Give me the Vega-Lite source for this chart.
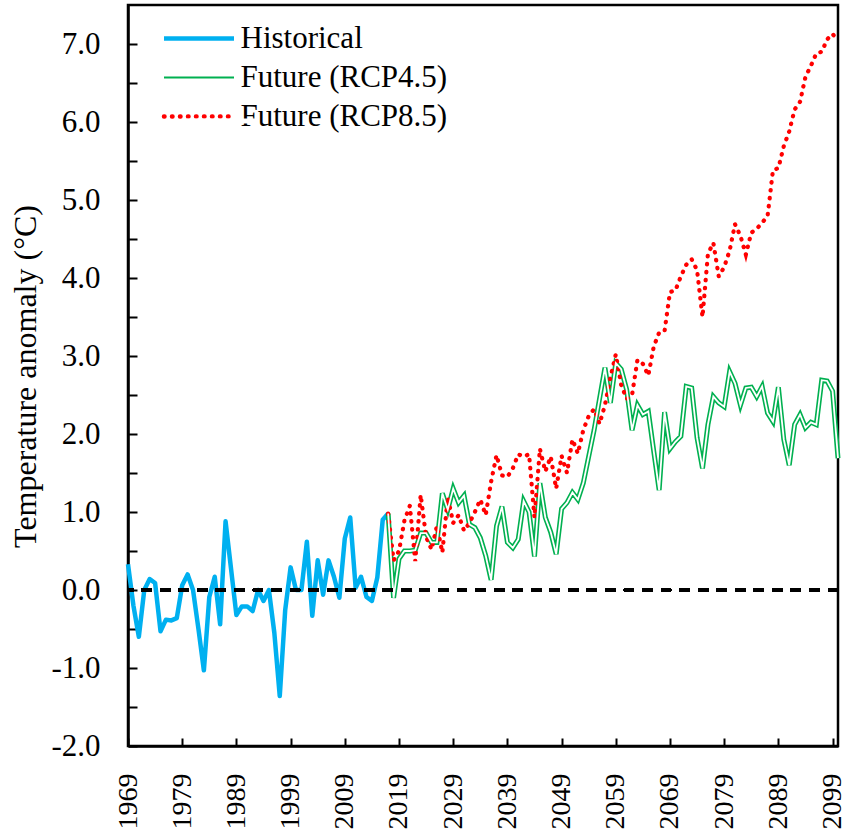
{
  "$schema": "https://vega.github.io/schema/vega-lite/v6.json",
  "width": 710,
  "height": 741,
  "autosize": {"type": "none"},
  "padding": {"left": 128, "top": 5, "right": 7, "bottom": 85},
  "background": "white",
  "config": {
    "font": "Liberation Serif",
    "view": {"stroke": "black", "strokeWidth": 2.5},
    "axis": {
      "grid": false,
      "domainColor": "black",
      "domainWidth": 2.5,
      "tickColor": "black",
      "tickWidth": 2,
      "labelFont": "Liberation Serif",
      "labelColor": "black",
      "titleFont": "Liberation Serif",
      "titleColor": "black",
      "titleFontWeight": "normal"
    },
    "legend": {
      "orient": "none",
      "legendX": 37,
      "legendY": 18,
      "title": null,
      "symbolType": "stroke",
      "symbolSize": 4900,
      "symbolOffset": 18.5,
      "labelFont": "Liberation Serif",
      "labelFontSize": 31,
      "labelLimit": 0,
      "labelOffset": 26,
      "rowPadding": 7,
      "padding": 0
    }
  },
  "datasets": {
    "temps": [
      {"year": 1969, "series": "Historical", "value": 0.33},
      {"year": 1970, "series": "Historical", "value": -0.2},
      {"year": 1971, "series": "Historical", "value": -0.6},
      {"year": 1972, "series": "Historical", "value": 0.0},
      {"year": 1973, "series": "Historical", "value": 0.14},
      {"year": 1974, "series": "Historical", "value": 0.09},
      {"year": 1975, "series": "Historical", "value": -0.53},
      {"year": 1976, "series": "Historical", "value": -0.38},
      {"year": 1977, "series": "Historical", "value": -0.39},
      {"year": 1978, "series": "Historical", "value": -0.36},
      {"year": 1979, "series": "Historical", "value": 0.06},
      {"year": 1980, "series": "Historical", "value": 0.2},
      {"year": 1981, "series": "Historical", "value": 0.0},
      {"year": 1982, "series": "Historical", "value": -0.5},
      {"year": 1983, "series": "Historical", "value": -1.03},
      {"year": 1984, "series": "Historical", "value": -0.09},
      {"year": 1985, "series": "Historical", "value": 0.17},
      {"year": 1986, "series": "Historical", "value": -0.44},
      {"year": 1987, "series": "Historical", "value": 0.88},
      {"year": 1988, "series": "Historical", "value": 0.28},
      {"year": 1989, "series": "Historical", "value": -0.32},
      {"year": 1990, "series": "Historical", "value": -0.21},
      {"year": 1991, "series": "Historical", "value": -0.21},
      {"year": 1992, "series": "Historical", "value": -0.27},
      {"year": 1993, "series": "Historical", "value": 0.0},
      {"year": 1994, "series": "Historical", "value": -0.14},
      {"year": 1995, "series": "Historical", "value": 0.0},
      {"year": 1996, "series": "Historical", "value": -0.55},
      {"year": 1997, "series": "Historical", "value": -1.36},
      {"year": 1998, "series": "Historical", "value": -0.26},
      {"year": 1999, "series": "Historical", "value": 0.29},
      {"year": 2000, "series": "Historical", "value": 0.0},
      {"year": 2001, "series": "Historical", "value": 0.0},
      {"year": 2002, "series": "Historical", "value": 0.62},
      {"year": 2003, "series": "Historical", "value": -0.33},
      {"year": 2004, "series": "Historical", "value": 0.38},
      {"year": 2005, "series": "Historical", "value": -0.06},
      {"year": 2006, "series": "Historical", "value": 0.38},
      {"year": 2007, "series": "Historical", "value": 0.17},
      {"year": 2008, "series": "Historical", "value": -0.1},
      {"year": 2009, "series": "Historical", "value": 0.66},
      {"year": 2010, "series": "Historical", "value": 0.93},
      {"year": 2011, "series": "Historical", "value": 0.03},
      {"year": 2012, "series": "Historical", "value": 0.17},
      {"year": 2013, "series": "Historical", "value": -0.09},
      {"year": 2014, "series": "Historical", "value": -0.14},
      {"year": 2015, "series": "Historical", "value": 0.16},
      {"year": 2016, "series": "Historical", "value": 0.9},
      {"year": 2017, "series": "Historical", "value": 0.98},

      {"year": 2017, "series": "Future (RCP4.5)", "value": 0.98},
      {"year": 2018, "series": "Future (RCP4.5)", "value": -0.1},
      {"year": 2019, "series": "Future (RCP4.5)", "value": 0.4},
      {"year": 2020, "series": "Future (RCP4.5)", "value": 0.5},
      {"year": 2021, "series": "Future (RCP4.5)", "value": 0.5},
      {"year": 2022, "series": "Future (RCP4.5)", "value": 0.51},
      {"year": 2023, "series": "Future (RCP4.5)", "value": 0.73},
      {"year": 2024, "series": "Future (RCP4.5)", "value": 0.73},
      {"year": 2025, "series": "Future (RCP4.5)", "value": 0.61},
      {"year": 2026, "series": "Future (RCP4.5)", "value": 0.61},
      {"year": 2027, "series": "Future (RCP4.5)", "value": 1.24},
      {"year": 2028, "series": "Future (RCP4.5)", "value": 1.03},
      {"year": 2029, "series": "Future (RCP4.5)", "value": 1.3},
      {"year": 2030, "series": "Future (RCP4.5)", "value": 1.12},
      {"year": 2031, "series": "Future (RCP4.5)", "value": 1.21},
      {"year": 2032, "series": "Future (RCP4.5)", "value": 0.84},
      {"year": 2033, "series": "Future (RCP4.5)", "value": 0.8},
      {"year": 2034, "series": "Future (RCP4.5)", "value": 0.67},
      {"year": 2035, "series": "Future (RCP4.5)", "value": 0.44},
      {"year": 2036, "series": "Future (RCP4.5)", "value": 0.13},
      {"year": 2037, "series": "Future (RCP4.5)", "value": 0.82},
      {"year": 2038, "series": "Future (RCP4.5)", "value": 1.07},
      {"year": 2039, "series": "Future (RCP4.5)", "value": 0.61},
      {"year": 2040, "series": "Future (RCP4.5)", "value": 0.54},
      {"year": 2041, "series": "Future (RCP4.5)", "value": 0.65},
      {"year": 2042, "series": "Future (RCP4.5)", "value": 1.14},
      {"year": 2043, "series": "Future (RCP4.5)", "value": 1.0},
      {"year": 2044, "series": "Future (RCP4.5)", "value": 0.43},
      {"year": 2045, "series": "Future (RCP4.5)", "value": 1.37},
      {"year": 2046, "series": "Future (RCP4.5)", "value": 0.93},
      {"year": 2047, "series": "Future (RCP4.5)", "value": 0.74},
      {"year": 2048, "series": "Future (RCP4.5)", "value": 0.46},
      {"year": 2049, "series": "Future (RCP4.5)", "value": 1.04},
      {"year": 2050, "series": "Future (RCP4.5)", "value": 1.12},
      {"year": 2051, "series": "Future (RCP4.5)", "value": 1.25},
      {"year": 2052, "series": "Future (RCP4.5)", "value": 1.16},
      {"year": 2053, "series": "Future (RCP4.5)", "value": 1.37},
      {"year": 2054, "series": "Future (RCP4.5)", "value": 1.71},
      {"year": 2055, "series": "Future (RCP4.5)", "value": 2.05},
      {"year": 2056, "series": "Future (RCP4.5)", "value": 2.45},
      {"year": 2057, "series": "Future (RCP4.5)", "value": 2.85},
      {"year": 2058, "series": "Future (RCP4.5)", "value": 2.4},
      {"year": 2059, "series": "Future (RCP4.5)", "value": 2.91},
      {"year": 2060, "series": "Future (RCP4.5)", "value": 2.83},
      {"year": 2061, "series": "Future (RCP4.5)", "value": 2.57},
      {"year": 2062, "series": "Future (RCP4.5)", "value": 2.05},
      {"year": 2063, "series": "Future (RCP4.5)", "value": 2.37},
      {"year": 2064, "series": "Future (RCP4.5)", "value": 2.25},
      {"year": 2065, "series": "Future (RCP4.5)", "value": 2.29},
      {"year": 2066, "series": "Future (RCP4.5)", "value": 1.78},
      {"year": 2067, "series": "Future (RCP4.5)", "value": 1.28},
      {"year": 2068, "series": "Future (RCP4.5)", "value": 2.28},
      {"year": 2069, "series": "Future (RCP4.5)", "value": 1.81},
      {"year": 2070, "series": "Future (RCP4.5)", "value": 1.9},
      {"year": 2071, "series": "Future (RCP4.5)", "value": 1.97},
      {"year": 2072, "series": "Future (RCP4.5)", "value": 2.61},
      {"year": 2073, "series": "Future (RCP4.5)", "value": 2.59},
      {"year": 2074, "series": "Future (RCP4.5)", "value": 1.95},
      {"year": 2075, "series": "Future (RCP4.5)", "value": 1.56},
      {"year": 2076, "series": "Future (RCP4.5)", "value": 2.12},
      {"year": 2077, "series": "Future (RCP4.5)", "value": 2.48},
      {"year": 2078, "series": "Future (RCP4.5)", "value": 2.4},
      {"year": 2079, "series": "Future (RCP4.5)", "value": 2.35},
      {"year": 2080, "series": "Future (RCP4.5)", "value": 2.8},
      {"year": 2081, "series": "Future (RCP4.5)", "value": 2.65},
      {"year": 2082, "series": "Future (RCP4.5)", "value": 2.37},
      {"year": 2083, "series": "Future (RCP4.5)", "value": 2.59},
      {"year": 2084, "series": "Future (RCP4.5)", "value": 2.6},
      {"year": 2085, "series": "Future (RCP4.5)", "value": 2.48},
      {"year": 2086, "series": "Future (RCP4.5)", "value": 2.61},
      {"year": 2087, "series": "Future (RCP4.5)", "value": 2.27},
      {"year": 2088, "series": "Future (RCP4.5)", "value": 2.16},
      {"year": 2089, "series": "Future (RCP4.5)", "value": 2.6},
      {"year": 2090, "series": "Future (RCP4.5)", "value": 1.93},
      {"year": 2091, "series": "Future (RCP4.5)", "value": 1.6},
      {"year": 2092, "series": "Future (RCP4.5)", "value": 2.12},
      {"year": 2093, "series": "Future (RCP4.5)", "value": 2.25},
      {"year": 2094, "series": "Future (RCP4.5)", "value": 2.08},
      {"year": 2095, "series": "Future (RCP4.5)", "value": 2.15},
      {"year": 2096, "series": "Future (RCP4.5)", "value": 2.12},
      {"year": 2097, "series": "Future (RCP4.5)", "value": 2.69},
      {"year": 2098, "series": "Future (RCP4.5)", "value": 2.68},
      {"year": 2099, "series": "Future (RCP4.5)", "value": 2.55},
      {"year": 2100, "series": "Future (RCP4.5)", "value": 1.69},

      {"year": 2017, "series": "Future (RCP8.5)", "value": 0.98},
      {"year": 2018, "series": "Future (RCP8.5)", "value": 0.38},
      {"year": 2019, "series": "Future (RCP8.5)", "value": 0.5},
      {"year": 2020, "series": "Future (RCP8.5)", "value": 0.89},
      {"year": 2021, "series": "Future (RCP8.5)", "value": 1.08},
      {"year": 2022, "series": "Future (RCP8.5)", "value": 0.37},
      {"year": 2023, "series": "Future (RCP8.5)", "value": 1.22},
      {"year": 2024, "series": "Future (RCP8.5)", "value": 0.68},
      {"year": 2025, "series": "Future (RCP8.5)", "value": 0.52},
      {"year": 2026, "series": "Future (RCP8.5)", "value": 0.82},
      {"year": 2027, "series": "Future (RCP8.5)", "value": 0.48},
      {"year": 2028, "series": "Future (RCP8.5)", "value": 1.19},
      {"year": 2029, "series": "Future (RCP8.5)", "value": 0.86},
      {"year": 2030, "series": "Future (RCP8.5)", "value": 0.96},
      {"year": 2031, "series": "Future (RCP8.5)", "value": 0.76},
      {"year": 2032, "series": "Future (RCP8.5)", "value": 0.86},
      {"year": 2033, "series": "Future (RCP8.5)", "value": 1.0},
      {"year": 2034, "series": "Future (RCP8.5)", "value": 1.16},
      {"year": 2035, "series": "Future (RCP8.5)", "value": 0.96},
      {"year": 2036, "series": "Future (RCP8.5)", "value": 1.39},
      {"year": 2037, "series": "Future (RCP8.5)", "value": 1.73},
      {"year": 2038, "series": "Future (RCP8.5)", "value": 1.47},
      {"year": 2039, "series": "Future (RCP8.5)", "value": 1.45},
      {"year": 2040, "series": "Future (RCP8.5)", "value": 1.56},
      {"year": 2041, "series": "Future (RCP8.5)", "value": 1.74},
      {"year": 2042, "series": "Future (RCP8.5)", "value": 1.71},
      {"year": 2043, "series": "Future (RCP8.5)", "value": 1.74},
      {"year": 2044, "series": "Future (RCP8.5)", "value": 0.93},
      {"year": 2045, "series": "Future (RCP8.5)", "value": 1.81},
      {"year": 2046, "series": "Future (RCP8.5)", "value": 1.52},
      {"year": 2047, "series": "Future (RCP8.5)", "value": 1.71},
      {"year": 2048, "series": "Future (RCP8.5)", "value": 1.3},
      {"year": 2049, "series": "Future (RCP8.5)", "value": 1.72},
      {"year": 2050, "series": "Future (RCP8.5)", "value": 1.5},
      {"year": 2051, "series": "Future (RCP8.5)", "value": 1.93},
      {"year": 2052, "series": "Future (RCP8.5)", "value": 1.75},
      {"year": 2053, "series": "Future (RCP8.5)", "value": 2.05},
      {"year": 2054, "series": "Future (RCP8.5)", "value": 2.23},
      {"year": 2055, "series": "Future (RCP8.5)", "value": 2.32},
      {"year": 2056, "series": "Future (RCP8.5)", "value": 2.13},
      {"year": 2057, "series": "Future (RCP8.5)", "value": 2.37},
      {"year": 2058, "series": "Future (RCP8.5)", "value": 2.72},
      {"year": 2059, "series": "Future (RCP8.5)", "value": 3.02},
      {"year": 2060, "series": "Future (RCP8.5)", "value": 2.63},
      {"year": 2061, "series": "Future (RCP8.5)", "value": 2.45},
      {"year": 2062, "series": "Future (RCP8.5)", "value": 2.5},
      {"year": 2063, "series": "Future (RCP8.5)", "value": 2.95},
      {"year": 2064, "series": "Future (RCP8.5)", "value": 2.9},
      {"year": 2065, "series": "Future (RCP8.5)", "value": 2.75},
      {"year": 2066, "series": "Future (RCP8.5)", "value": 3.12},
      {"year": 2067, "series": "Future (RCP8.5)", "value": 3.3},
      {"year": 2068, "series": "Future (RCP8.5)", "value": 3.32},
      {"year": 2069, "series": "Future (RCP8.5)", "value": 3.82},
      {"year": 2070, "series": "Future (RCP8.5)", "value": 3.84},
      {"year": 2071, "series": "Future (RCP8.5)", "value": 4.02},
      {"year": 2072, "series": "Future (RCP8.5)", "value": 4.17},
      {"year": 2073, "series": "Future (RCP8.5)", "value": 4.24},
      {"year": 2074, "series": "Future (RCP8.5)", "value": 4.1},
      {"year": 2075, "series": "Future (RCP8.5)", "value": 3.5},
      {"year": 2076, "series": "Future (RCP8.5)", "value": 4.31},
      {"year": 2077, "series": "Future (RCP8.5)", "value": 4.45},
      {"year": 2078, "series": "Future (RCP8.5)", "value": 4.02},
      {"year": 2079, "series": "Future (RCP8.5)", "value": 4.14},
      {"year": 2080, "series": "Future (RCP8.5)", "value": 4.35},
      {"year": 2081, "series": "Future (RCP8.5)", "value": 4.69},
      {"year": 2082, "series": "Future (RCP8.5)", "value": 4.54},
      {"year": 2083, "series": "Future (RCP8.5)", "value": 4.3},
      {"year": 2084, "series": "Future (RCP8.5)", "value": 4.58},
      {"year": 2085, "series": "Future (RCP8.5)", "value": 4.63},
      {"year": 2086, "series": "Future (RCP8.5)", "value": 4.71},
      {"year": 2087, "series": "Future (RCP8.5)", "value": 4.79},
      {"year": 2088, "series": "Future (RCP8.5)", "value": 5.38},
      {"year": 2089, "series": "Future (RCP8.5)", "value": 5.41},
      {"year": 2090, "series": "Future (RCP8.5)", "value": 5.69},
      {"year": 2091, "series": "Future (RCP8.5)", "value": 5.88},
      {"year": 2092, "series": "Future (RCP8.5)", "value": 6.16},
      {"year": 2093, "series": "Future (RCP8.5)", "value": 6.26},
      {"year": 2094, "series": "Future (RCP8.5)", "value": 6.58},
      {"year": 2095, "series": "Future (RCP8.5)", "value": 6.72},
      {"year": 2096, "series": "Future (RCP8.5)", "value": 6.88},
      {"year": 2097, "series": "Future (RCP8.5)", "value": 6.9},
      {"year": 2098, "series": "Future (RCP8.5)", "value": 7.06},
      {"year": 2099, "series": "Future (RCP8.5)", "value": 7.13},
      {"year": 2100, "series": "Future (RCP8.5)", "value": 7.04}
    ]
  },
  "data": {"name": "temps"},
  "layer": [
    {
      "encoding": {
        "x": {
          "field": "year",
          "type": "quantitative",
          "title": null,
          "scale": {"domain": [1969, 2100], "nice": false, "zero": false},
          "axis": {
            "values": [1969, 1974, 1979, 1984, 1989, 1994, 1999, 2004, 2009, 2014, 2019, 2024, 2029, 2034, 2039, 2044, 2049, 2054, 2059, 2064, 2069, 2074, 2079, 2084, 2089, 2094, 2099],
            "labelExpr": "(datum.value - 1969) % 10 === 0 ? '' + datum.value : ''",
            "labelAngle": 270,
            "labelFontSize": 28,
            "labelPadding": 35,
            "labelOverlap": false,
            "labelFlush": false,
            "tickSize": -8,
            "encode": {
              "ticks": {
                "update": {
                  "y2": {"signal": "(datum.value - 1969) % 10 === 0 ? -8 : -4"}
                }
              }
            }
          }
        },
        "y": {
          "field": "value",
          "type": "quantitative",
          "title": "Temperature anomaly (°C)",
          "scale": {"domain": [-2, 7.5], "nice": false, "zero": false},
          "axis": {
            "values": [-2, -1.5, -1, -0.5, 0, 0.5, 1, 1.5, 2, 2.5, 3, 3.5, 4, 4.5, 5, 5.5, 6, 6.5, 7],
            "labelExpr": "datum.value % 1 === 0 ? replace(format(datum.value, '.1f'), '\u2212', '-') : ''",
            "labelFontSize": 31,
            "labelPadding": 37,
            "labelOverlap": false,
            "labelFlush": false,
            "tickSize": -9,
            "titleFontSize": 32,
            "titleAngle": 270,
            "titleAlign": "center",
            "titleBaseline": "alphabetic",
            "titleX": -93,
            "titleY": 371,
            "encode": {
              "ticks": {
                "update": {
                  "x2": {"signal": "datum.value % 1 === 0 ? 9 : 6"}
                }
              }
            }
          }
        },
        "color": {
          "field": "series",
          "type": "nominal",
          "scale": {
            "domain": ["Historical", "Future (RCP4.5)", "Future (RCP8.5)"],
            "range": ["#00B0F0", "#00B050", "#FF0000"]
          },
          "legend": {
            "labelColor": "black",
            "encode": {
              "symbols": {
                "update": {
                  "stroke": {"signal": "datum.label === 'Historical' ? '#00B0F0' : datum.label === 'Future (RCP4.5)' ? 'white' : '#FF0000'"},
                  "strokeWidth": {"signal": "datum.label === 'Future (RCP4.5)' ? 1.8 : 4.5"},
                  "strokeDash": {"signal": "datum.label === 'Future (RCP8.5)' ? [0.5, 7.5] : []"},
                  "strokeCap": {"signal": "datum.label === 'Future (RCP8.5)' ? 'round' : 'butt'"}
                }
              }
            }
          }
        }
      },
      "layer": [
        {
          "transform": [{"filter": "datum.series === 'Historical'"}],
          "mark": {"type": "line", "strokeWidth": 4.5, "strokeJoin": "round"}
        },
        {
          "transform": [{"filter": "datum.series === 'Future (RCP4.5)'"}],
          "mark": {"type": "line", "strokeWidth": 5, "strokeJoin": "miter"}
        },
        {
          "transform": [{"filter": "datum.series === 'Future (RCP8.5)'"}],
          "mark": {"type": "line", "strokeWidth": 4.2, "strokeDash": [0.5, 7.5], "strokeCap": "round"}
        }
      ]
    },
    {
      "transform": [{"filter": "datum.series === 'Future (RCP4.5)'"}],
      "mark": {"type": "line", "strokeWidth": 1.8, "strokeJoin": "miter"},
      "encoding": {
        "x": {"field": "year", "type": "quantitative", "title": null},
        "y": {"field": "value", "type": "quantitative", "title": "Temperature anomaly (°C)"},
        "color": {
          "field": "series",
          "type": "nominal",
          "scale": {
            "domain": ["Historical", "Future (RCP4.5)", "Future (RCP8.5)"],
            "range": ["transparent", "white", "transparent"]
          },
          "legend": {
            "labelOpacity": 0,
            "encode": {
              "labels": {
                "update": {
                  "opacity": {"value": 0},
                  "fillOpacity": {"value": 0}
                }
              },
              "symbols": {
                "update": {
                  "stroke": {"signal": "datum.label === 'Future (RCP4.5)' ? '#00B050' : 'transparent'"},
                  "strokeWidth": {"value": 5.2},
                  "strokeDash": {"value": []},
                  "strokeCap": {"value": "butt"}
                }
              }
            }
          }
        }
      }
    },
    {
      "mark": {"type": "rule", "color": "black", "strokeWidth": 3, "strokeDash": [10, 8.55]},
      "encoding": {"y": {"datum": 0, "type": "quantitative", "title": "Temperature anomaly (°C)"}}
    }
  ],
  "resolve": {"scale": {"color": "independent"}}
}
